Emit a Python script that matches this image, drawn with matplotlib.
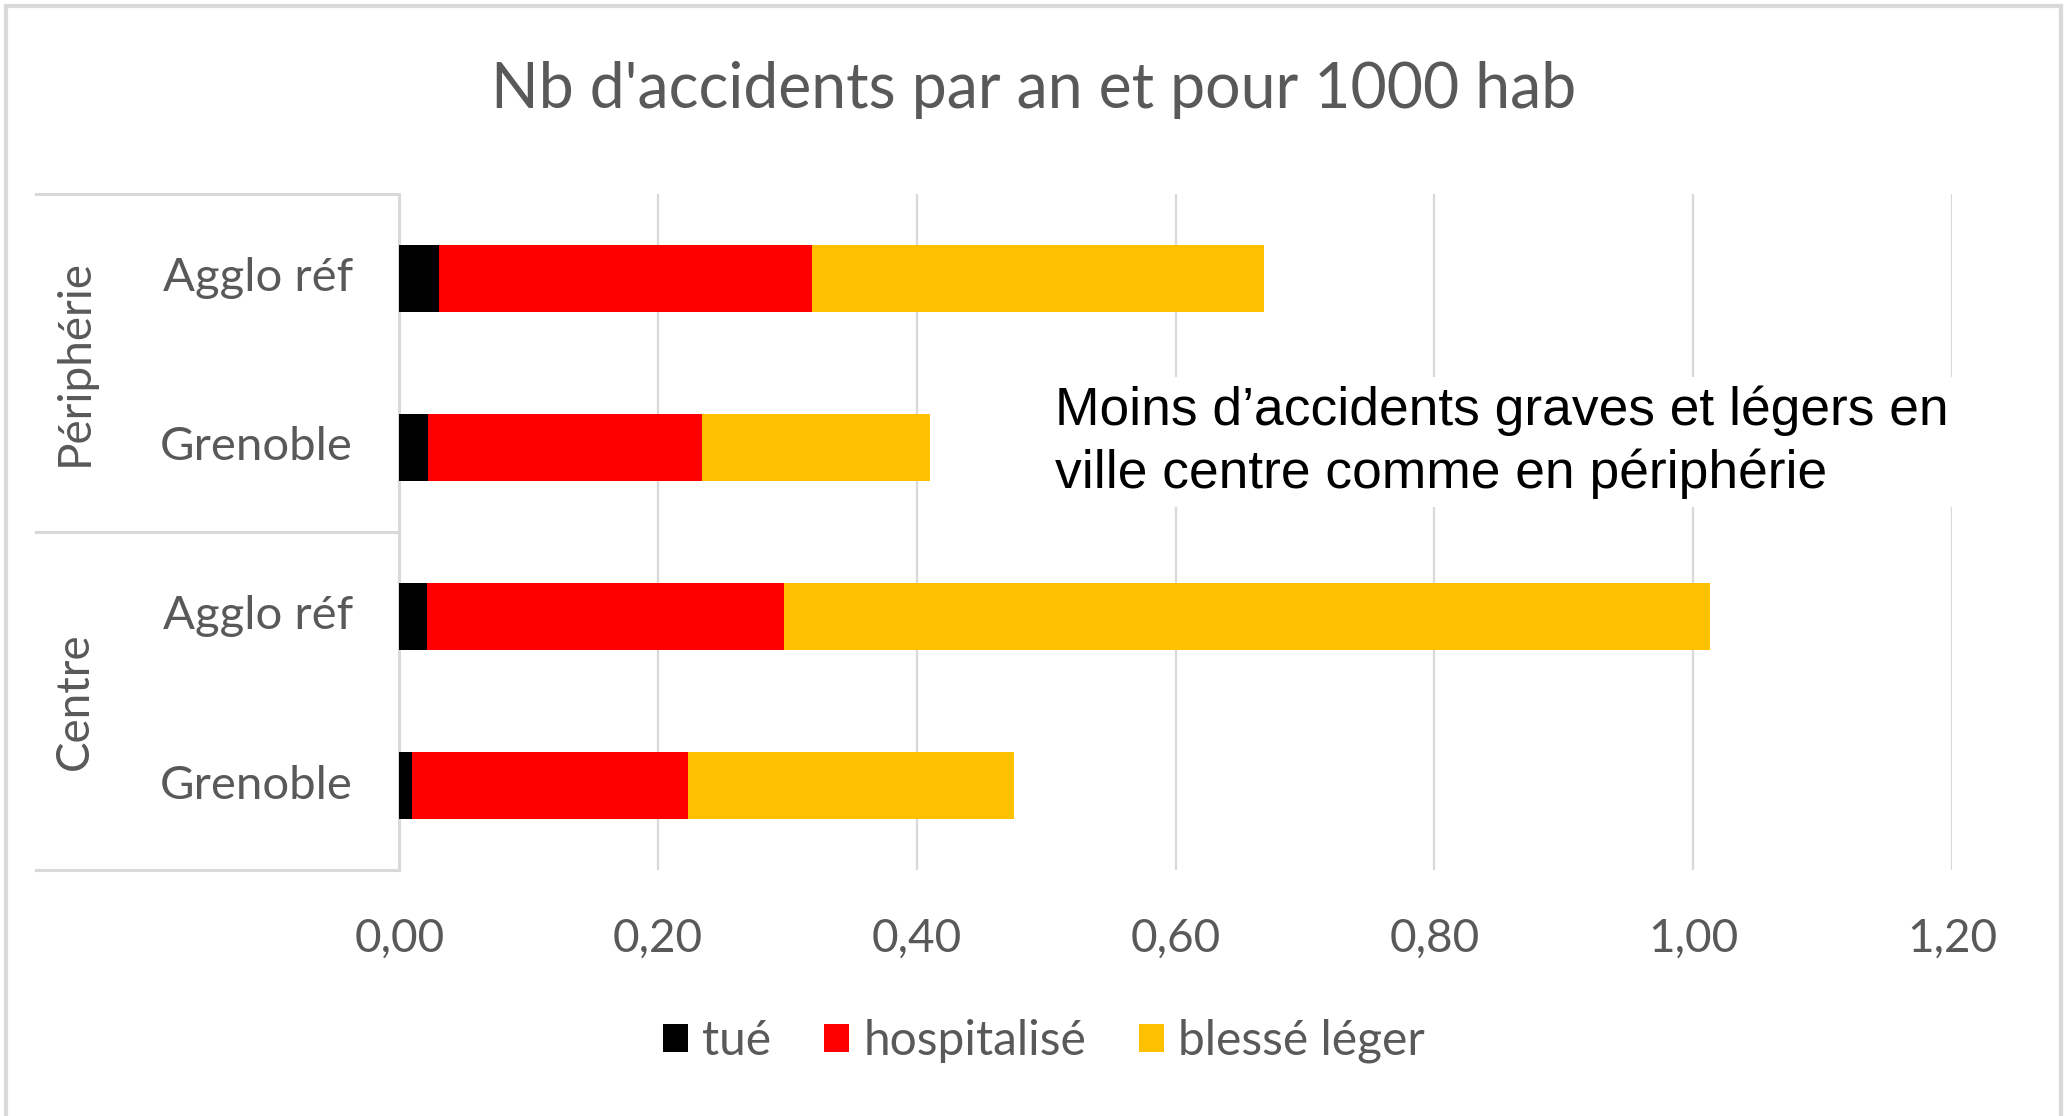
import matplotlib
matplotlib.use("Agg")
import matplotlib.pyplot as plt
from matplotlib.lines import Line2D
import numpy as np

# Data
groups = ["Périphérie", "Centre"]
categories = ["Agglo réf", "Grenoble", "Agglo réf", "Grenoble"]
tue = [0.031, 0.022, 0.021, 0.010]
hospitalise = [0.288, 0.212, 0.276, 0.213]
blesse_leger = [0.349, 0.176, 0.716, 0.252]
series_names = ["tué", "hospitalisé", "blessé léger"]
series_colors = ["#000000", "#FF0000", "#FFC000"]
xticks = [0.0, 0.2, 0.4, 0.6, 0.8, 1.0, 1.2]
xtick_labels = ["0,00", "0,20", "0,40", "0,60", "0,80", "1,00", "1,20"]
title = "Nb d'accidents par an et pour 1000 hab"
note = "Moins d\u2019accidents graves et légers en\nville centre comme en périphérie"

FONT = "Lato"
GRAY = "#595959"
LINE = "#d9d9d9"

W, H = 2067, 1116
fig = plt.figure(figsize=(W / 100, H / 100), dpi=100)
fig.patch.set_facecolor("white")

# figure border
for xs, ys in [([0.003, 0.003], [0, 0.995]), ([0.003, 0.997], [0.995, 0.995]), ([0.997, 0.997], [0, 0.995])]:
    fig.add_artist(Line2D(xs, ys, transform=fig.transFigure, color=LINE, lw=3))

ax = fig.add_axes([0.1932, 0.2204, 0.7511, 0.6059])
y = np.arange(len(categories))[::-1]  # top-to-bottom
vals = [tue, hospitalise, blesse_leger]
left = np.zeros(len(categories))
handles = []
for v, c, n in zip(vals, series_colors, series_names):
    b = ax.barh(y, v, left=left, height=0.4, color=c, label=n, zorder=3)
    handles.append(b)
    left = left + np.array(v)

ax.set_xlim(0, 1.2)
ax.set_ylim(-0.5, 3.5)
ax.set_xticks(xticks)
ax.set_xticklabels(xtick_labels, fontsize=33, color=GRAY, family=FONT)
ax.set_yticks([])
ax.xaxis.grid(True, color=LINE, lw=1.6, zorder=0)
ax.set_axisbelow(True)
for s in ["top", "right", "bottom"]:
    ax.spines[s].set_visible(False)
ax.spines["left"].set_color(LINE)
ax.spines["left"].set_linewidth(2.2)
ax.tick_params(axis="x", length=0, pad=34)

# category labels
for yi, cat in zip(y, categories):
    ax.text(-0.036, yi, cat, ha="right", va="center", fontsize=34, color=GRAY,
            family=FONT, transform=ax.transData)

# group boxes
x_left_ax = (35.6 - 0.1932 * W) / (0.7511 * W)
for yy in [3.5, 1.5, -0.5]:
    ax.plot([x_left_ax, 0], [yy, yy], transform=ax.get_yaxis_transform(), color=LINE, lw=2.2,
            clip_on=False)
for g, yc in zip(groups, [2.5, 0.5]):
    ax.text((75 - 0.1932 * W) / (0.7511 * W), yc, g, rotation=90, ha="center", va="center",
            fontsize=33, color=GRAY, family=FONT, transform=ax.get_yaxis_transform())

# annotation
ax.text(0.507, 2.03, note, ha="left", va="center", fontsize=38.4, color="black",
        family="Liberation Sans", linespacing=1.3,
        bbox=dict(facecolor="white", edgecolor="none", pad=6), zorder=4)

fig.text(0.5, 0.919, title, ha="center", va="center", fontsize=45, color=GRAY, family=FONT)

fig.legend(handles=handles, labels=series_names, loc="center", bbox_to_anchor=(0.505, 0.067),
           ncol=3, frameon=False, handlelength=0.52, handleheight=0.52, handletextpad=0.3,
           columnspacing=1.1, prop={"family": FONT, "size": 34.5}, labelcolor=GRAY)

fig.savefig("out.png", dpi=100, facecolor="white")
